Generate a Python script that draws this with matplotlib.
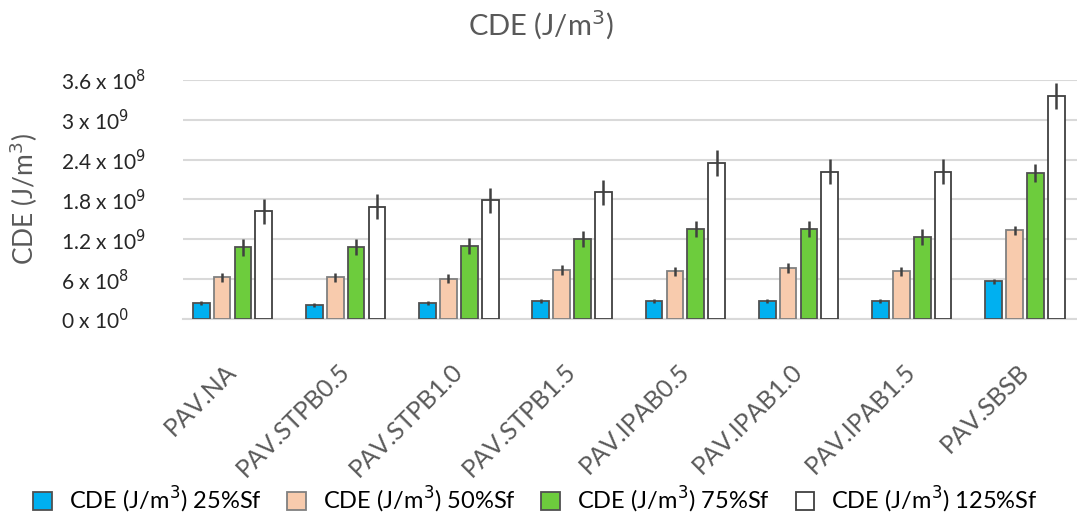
import numpy as np
import matplotlib.pyplot as plt
import matplotlib as mpl

mpl.rcParams["font.family"] = ["Lato", "DejaVu Sans"]

categories = ["PAV.NA", "PAV.STPB0.5", "PAV.STPB1.0", "PAV.STPB1.5",
              "PAV.IPAB0.5", "PAV.IPAB1.0", "PAV.IPAB1.5", "PAV.SBSB"]
series_names = ["25%Sf", "50%Sf", "75%Sf", "125%Sf"]

# values in units of 1e9 J/m3
cde_25 = [0.236, 0.215, 0.236, 0.276, 0.276, 0.276, 0.276, 0.57]
cde_50 = [0.63, 0.63, 0.61, 0.74, 0.72, 0.77, 0.72, 1.335]
cde_75 = [1.08, 1.08, 1.10, 1.20, 1.355, 1.355, 1.235, 2.20]
cde_125 = [1.62, 1.69, 1.79, 1.91, 2.35, 2.22, 2.22, 3.36]

err_25 = [0.03, 0.03, 0.03, 0.03, 0.03, 0.03, 0.03, 0.04]
err_50 = [0.07, 0.07, 0.07, 0.07, 0.07, 0.07, 0.07, 0.07]
err_75 = [0.13, 0.12, 0.12, 0.12, 0.12, 0.12, 0.12, 0.13]
err_125 = [0.19, 0.19, 0.19, 0.19, 0.19, 0.19, 0.19, 0.19]

ytick_values = [0, 0.6, 1.2, 1.8, 2.4, 3.0, 3.6]
ytick_labels = [r"0 x 10$^{0}$", r"6 x 10$^{8}$", r"1.2 x 10$^{9}$", r"1.8 x 10$^{9}$",
                r"2.4 x 10$^{9}$", r"3 x 10$^{9}$", r"3.6 x 10$^{8}$"]

colors = ["#00B0F0", "#F8CBAD", "#6DCC3D", "#FFFFFF"]
edges = ["#505050", "#808080", "#505050", "#404040"]
gray = "#595959"

fig = plt.figure(figsize=(10.77, 5.24), dpi=100)
ax = fig.add_axes([183 / 1077, 1 - 319 / 524, (1077 - 183) / 1077, (319 - 80) / 524])

x = np.arange(len(categories))
pitch = 0.184
width = 0.148
all_vals = [cde_25, cde_50, cde_75, cde_125]
all_errs = [err_25, err_50, err_75, err_125]
for k in range(4):
    ax.bar(x + (k - 1.5) * pitch, all_vals[k], width, color=colors[k],
           edgecolor=edges[k], linewidth=1.3, zorder=3,
           yerr=all_errs[k], error_kw=dict(ecolor="#404040", elinewidth=1.8, capsize=0, zorder=4),
           label=r"CDE (J/m$^{3}$) " + series_names[k])

ax.set_xlim(-0.437, 7.46)
ax.set_ylim(0, 3.6)
ax.set_yticks(ytick_values)
ax.set_yticklabels(ytick_labels, fontsize=15, color="#262626")
ax.yaxis.grid(True, color="#D9D9D9", linewidth=1.5, zorder=0)
ax.set_axisbelow(True)
for s in ["top", "right", "left"]:
    ax.spines[s].set_visible(False)
ax.spines["bottom"].set_color("#D9D9D9")
ax.spines["bottom"].set_linewidth(1.5)
ax.tick_params(axis="both", length=0)
ax.tick_params(axis="y", pad=88)
for lab in ax.get_yticklabels():
    lab.set_horizontalalignment("left")

ax.set_xticks(x)
ax.set_xticklabels(categories, rotation=45, ha="right", va="center",
                   rotation_mode="anchor", fontsize=18, color=gray)
ax.tick_params(axis="x", pad=35)

ax.set_ylabel(r"CDE (J/m$^{3}$)", fontsize=19, color=gray)
ax.yaxis.set_label_coords(-0.16, 0.5)
fig.text(0.502, 0.952, r"CDE (J/m$^{3}$)", fontsize=21, color=gray, ha="center", va="center")

fig.legend(loc="center", bbox_to_anchor=(0.497, 0.045), ncol=4, frameon=False,
           fontsize=17, handlelength=0.8, handleheight=0.8, columnspacing=1.1,
           handletextpad=0.7)

fig.savefig("out.png", dpi=100)
